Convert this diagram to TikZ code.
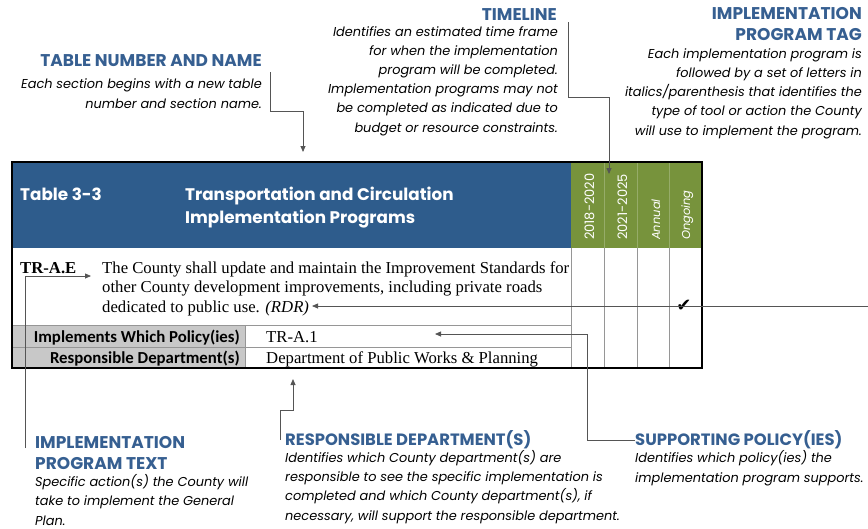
\documentclass[tikz,border=0pt]{standalone}
\usepackage{fontspec}
\setmainfont{Liberation Serif}
\newfontfamily\pop{Poppins}
\newfontfamily\carl{Carlito}
\newfontfamily\djv{DejaVu Sans}
\usetikzlibrary{arrows.meta}
\definecolor{hdrblue}{RGB}{46,92,140}
\definecolor{headblue}{RGB}{54,95,145}
\definecolor{olive}{RGB}{119,147,60}
\definecolor{olivel}{RGB}{150,172,105}
\definecolor{cellgray}{RGB}{200,200,200}
\definecolor{gridgray}{RGB}{150,150,150}
\definecolor{conngray}{RGB}{85,85,85}
\tikzset{
  anhead/.style={font=\pop\bfseries\fontsize{17}{20.5}\selectfont, text=headblue, inner sep=0pt},
  anheads/.style={anhead, font=\pop\bfseries\fontsize{16.4}{20.5}\selectfont},
  andesc/.style={font=\pop\itshape\fontsize{12.9}{19.2}\selectfont, text=black, inner sep=0pt},
  conn/.style={draw=conngray, line width=0.8pt, -{Triangle[length=6pt,width=5pt]}},
  body/.style={font=\fontsize{16.7}{19.5}\selectfont, inner sep=0pt, anchor=base west},
  glabel/.style={font=\carl\bfseries\fontsize{16.8}{17}\selectfont, inner sep=0pt, anchor=base east},
  colhead/.style={font=\pop\fontsize{13}{13}\selectfont, text=white, rotate=90, anchor=base west, inner sep=0pt},
  colheadi/.style={colhead, font=\pop\itshape\fontsize{11.5}{12}\selectfont},
  hdr/.style={font=\pop\bfseries\fontsize{16.8}{23}\selectfont, text=white, inner sep=0pt}
}
\begin{document}
\begin{tikzpicture}[x=1pt,y=-1pt]
\useasboundingbox (0,0) rectangle (868,528);
% ---- table
\fill[hdrblue] (12,162) rectangle (571,248);
\fill[olive] (571,162) rectangle (702,248);
\fill[cellgray] (12,325) rectangle (245,368);
\foreach \xx in {604,637,669} \draw[olivel, line width=0.8pt] (\xx,162) -- (\xx,248);
\foreach \xx in {571,604,637,669} \draw[gridgray, line width=0.8pt] (\xx,248) -- (\xx,368);
\draw[gridgray, line width=0.8pt] (12,325) -- (571,325) (12,347) -- (571,347) (245,325) -- (245,368);
\draw[black, line width=2pt] (12,162) rectangle (702,368);
% header text
\node[hdr, anchor=base west] (tnum) at (20,200) {Table 3-3};
\node[hdr, anchor=base west, align=left] (tname) at (185,223) {Transportation and Circulation\\Implementation Programs};
\node[colhead] (c1) at (594,240) {2018-2020};
\node[colhead] (c2) at (627,240) {2021-2025};
\node[colheadi] (c3) at (660,240) {Annual};
\node[colheadi] (c4) at (690,240) {Ongoing};
% body
\node[body, font=\bfseries\fontsize{16.7}{19.5}\selectfont] (code) at (20,273) {TR-A.E};
\node[body, align=left] (prog) at (102,312) {The County shall update and maintain the Improvement Standards for\\other County development improvements, including private roads\\dedicated to public use. \textit{(RDR)}};
\node[glabel] (l1) at (240,342) {Implements Which Policy(ies)};
\node[glabel] (l2) at (240,363) {Responsible Department(s)};
\node[body] (v1) at (266,342) {TR-A.1};
\node[body] (v2) at (266,363) {Department of Public Works \& Planning};
\node[font=\djv\fontsize{18}{18}\selectfont, inner sep=0pt] (chk) at (684,306) {✔};
% ---- annotations
\node[anhead, anchor=base east] (h1) at (262,66) {TABLE NUMBER AND NAME};
\node[andesc, anchor=base east, align=right] (d1) at (262,108) {Each section begins with a new table\\number and section name.};
\node[anhead, anchor=base east] (h2) at (557,20) {TIMELINE};
\node[andesc, anchor=base east, align=right] (d2) at (558,132) {Identifies an estimated time frame\\for when the implementation\\program will be completed.\\Implementation programs may not\\be completed as indicated due to\\budget or resource constraints.};
\node[anhead, anchor=base east, align=right] (h3) at (862,40) {IMPLEMENTATION\\PROGRAM TAG};
\node[andesc, anchor=base east, align=right] (d3) at (862,135) {Each implementation program is\\followed by a set of letters in\\italics/parenthesis that identifies the\\type of tool or action the County\\will use to implement the program.};
\node[anhead, anchor=base west, align=left] (h4) at (35,469) {IMPLEMENTATION\\PROGRAM TEXT};
\node[andesc, anchor=base west, align=left] (d4) at (35,525) {Specific action(s) the County will\\take to implement the General\\Plan.};
\node[anheads, anchor=base west] (h5) at (285,445) {RESPONSIBLE DEPARTMENT(S)};
\node[andesc, anchor=base west, align=left] (d5) at (285,520) {Identifies which County department(s) are\\responsible to see the specific implementation is\\completed and which County department(s), if\\necessary, will support the responsible department.};
\node[anheads, anchor=base west] (h6) at (635,445) {SUPPORTING POLICY(IES)};
\node[andesc, anchor=base west, align=left] (d6) at (635,482) {Identifies which policy(ies) the\\implementation program supports.};
% ---- connector points
\coordinate (a1s) at (270,72);
\coordinate (a1t) at (303,152);
\coordinate (a2s) at (568,22);
\coordinate (a2t) at (609,174);
\coordinate (a3s) at (868,306);
\coordinate (a3t) at (312,306);
\coordinate (a4s) at (25,448);
\coordinate (a4t) at (91,276);
\coordinate (a5s) at (280,440);
\coordinate (a5t) at (293,379);
\coordinate (a6s) at (635,440);
\coordinate (a6t) at (435,334);
\draw[conn] (a1s) -- (270,111) -| (a1t);
\draw[conn] (a2s) -- (568,97) -| (a2t);
\draw[conn] (a3s) -- (a3t);
\draw[conn] (a4s) |- (a4t);
\draw[conn] (a5s) -- (280,410) -| (a5t);
\draw[conn] (a6s) -| (587,334) -- (a6t);
\end{tikzpicture}
\end{document}
